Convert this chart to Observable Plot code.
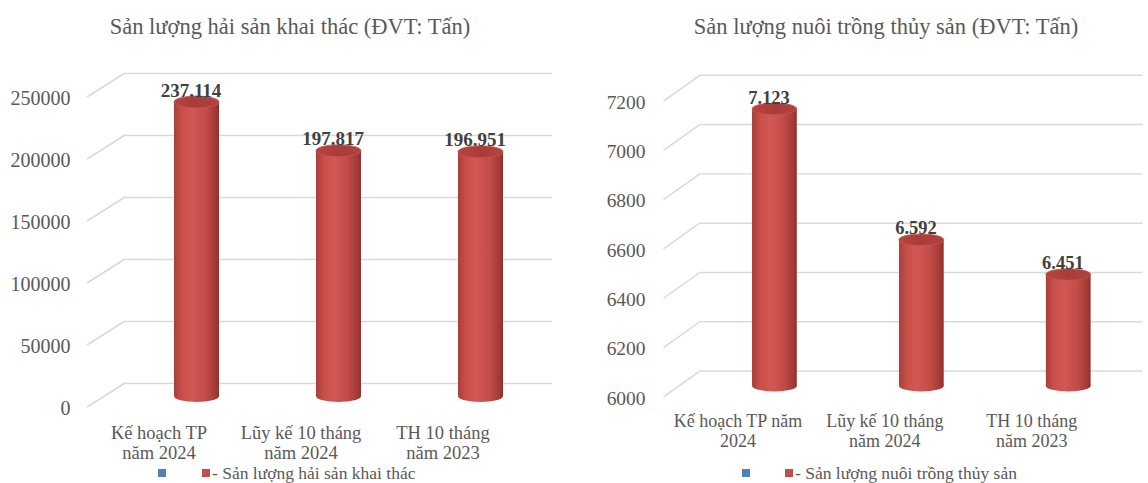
<!DOCTYPE html>
<html><head><meta charset="utf-8">
<script src="https://cdn.jsdelivr.net/npm/d3@7"></script>
<script src="https://cdn.jsdelivr.net/npm/@observablehq/plot@0.6"></script>
<style>
html,body{margin:0;padding:0;background:#fff;}
body{width:1148px;height:483px;overflow:hidden;position:relative;font-family:"Liberation Serif","DejaVu Serif",serif;color:#595959;}
.title{position:absolute;top:14px;font-size:22.5px;white-space:nowrap;transform:translateX(-50%);color:#595959;}
.chart{position:absolute;top:50px;}
.sw{position:absolute;top:469px;width:8px;height:8px;}
.ltext{position:absolute;top:465px;font-size:17.5px;line-height:17px;white-space:nowrap;color:#595959;}
</style></head><body>
<div class="title" id="t1" style="left:290px"></div>
<div class="title" id="t2" style="left:886px"></div>
<div class="chart" id="c1" style="left:0px"></div>
<div class="chart" id="c2" style="left:574px"></div>
<div class="sw" style="left:158px;background:#4f81bd"></div>
<div class="sw" style="left:202px;background:#c0504d"></div>
<div class="ltext" id="l1" style="left:212px"></div>
<div class="sw" style="left:742px;background:#4f81bd"></div>
<div class="sw" style="left:785px;background:#c0504d"></div>
<div class="ltext" id="l2" style="left:795px"></div>
<script>
// ---- Data ----
const titleA = "Sản lượng hải sản khai thác (ĐVT: Tấn)";
const seriesA = "- Sản lượng hải sản khai thác";
const categoriesA = ["Kế hoạch TP năm 2024", "Lũy kế 10 tháng năm 2024", "TH 10 tháng năm 2023"];
const tickLabelsA = ["Kế hoạch TP\nnăm 2024", "Lũy kế 10 tháng\nnăm 2024", "TH 10 tháng\nnăm 2023"];
const valuesA = [237114, 197817, 196951];
const yTicksA = [0, 50000, 100000, 150000, 200000, 250000];

const titleB = "Sản lượng nuôi trồng thủy sản (ĐVT: Tấn)";
const seriesB = "- Sản lượng nuôi trồng thủy sản";
const categoriesB = ["Kế hoạch TP năm 2024", "Lũy kế 10 tháng năm 2024", "TH 10 tháng năm 2023"];
const tickLabelsB = ["Kế hoạch TP năm\n2024", "Lũy kế 10 tháng\nnăm 2024", "TH 10 tháng\nnăm 2023"];
const valuesB = [7123, 6592, 6451];
const yTicksB = [6000, 6200, 6400, 6600, 6800, 7000, 7200];

document.getElementById("t1").textContent = titleA;
document.getElementById("t2").textContent = titleB;
document.getElementById("l1").textContent = seriesA;
document.getElementById("l2").textContent = seriesB;

const vnFmt = d3.formatLocale({decimal: ",", thousands: ".", grouping: [3], currency: ["", ""]}).format(",d");
const FONT = '"Liberation Serif","DejaVu Serif",serif';

function cylinderChart(o) {
  const data = o.cats.map((c, i) => ({cat: c, v: o.values[i], lab: o.tickLabels[i]}));
  const base = o.yDomain[0];
  const gid = o.id;
  const getScale = (scales, k) => (typeof scales[k] === "function" ? scales[k] : scales.scales[k]);
  const bwOf = (sx) => (typeof sx.bandwidth === "function" ? sx.bandwidth() : 45);
  const defsMark = () => {
    const defs = d3.create("svg:defs");
    const g = defs.append("linearGradient").attr("id", gid + "body").attr("x1", 0).attr("x2", 1).attr("y1", 0).attr("y2", 0);
    [[0, "#a83f3b"], [0.18, "#c94f4b"], [0.4, "#d25854"], [0.7, "#c24c48"], [0.92, "#a33a37"], [1, "#8e302d"]]
      .forEach(([off, c]) => g.append("stop").attr("offset", off).attr("stop-color", c));
    const t = defs.append("linearGradient").attr("id", gid + "top").attr("x1", 0).attr("x2", 1).attr("y1", 0).attr("y2", 0);
    [[0, "#b8453f"], [0.5, "#a83c38"], [1, "#b24440"]]
      .forEach(([off, c]) => t.append("stop").attr("offset", off).attr("stop-color", c));
    return defs.node();
  };
  const diagMark = (index, scales) => {
    const y = getScale(scales, "y");
    const g = d3.create("svg:g").attr("stroke", "#d9d9d9").attr("stroke-width", 1.5);
    for (const t of o.yTicks) {
      g.append("line").attr("x1", o.diagX0).attr("y1", y(t) + o.labelDy - 1)
        .attr("x2", o.mL).attr("y2", y(t) + o.backDy);
    }
    return g.node();
  };
  const bottomMark = (index, scales) => {
    const x = getScale(scales, "x"), y = getScale(scales, "y");
    const bw = bwOf(x);
    const g = d3.create("svg:g");
    for (const d of data) {
      g.append("ellipse").attr("cx", x(d.cat) + bw / 2).attr("cy", y(base)).attr("rx", bw / 2).attr("ry", 6)
        .attr("fill", `url(#${gid}body)`);
    }
    return g.node();
  };
  const topMark = (index, scales) => {
    const x = getScale(scales, "x"), y = getScale(scales, "y");
    const bw = bwOf(x);
    const g = d3.create("svg:g");
    for (const d of data) {
      g.append("ellipse").attr("cx", x(d.cat) + bw / 2).attr("cy", y(d.v)).attr("rx", bw / 2).attr("ry", 6)
        .attr("fill", `url(#${gid}top)`).attr("stroke", "#c9534e").attr("stroke-width", 0.8);
    }
    return g.node();
  };
  return Plot.plot({
    width: o.width, height: o.height,
    marginLeft: o.mL, marginRight: o.mR, marginTop: o.mT, marginBottom: o.mB,
    style: {fontFamily: FONT, background: "transparent", overflow: "visible", color: "#595959"},
    x: {domain: o.cats, paddingInner: o.pad, paddingOuter: o.pad / 2, axis: null},
    y: {domain: o.yDomain, axis: null},
    marks: [
      defsMark,
      Plot.ruleY(o.yTicks, {stroke: "#d9d9d9", strokeWidth: 1.5, dy: o.backDy}),
      diagMark,
      Plot.text(o.yTicks, {y: d => d, text: d => String(d), frameAnchor: "left", textAnchor: "end",
        dx: o.tickDx, dy: o.labelDy, fontSize: 20, fill: "#595959"}),
      bottomMark,
      Plot.barY(data, {x: "cat", y1: () => base, y2: "v", fill: `url(#${gid}body)`}),
      topMark,
      Plot.text(data, {x: "cat", y: "v", text: d => vnFmt(d.v), dy: -12, dx: -6,
        fontSize: 19, fontWeight: "bold", fill: "#404040"}),
      Plot.text(data, {x: "cat", text: "lab", frameAnchor: "bottom", lineAnchor: "top", lineHeight: 1.08,
        dy: 28, dx: -38, fontSize: 18.5, fill: "#595959"})
    ]
  });
}

document.getElementById("c1").append(cylinderChart({
  id: "ga", cats: categoriesA, tickLabels: tickLabelsA, values: valuesA,
  yDomain: [0, 250000], yTicks: yTicksA,
  width: 574, height: 420, mL: 125, mR: 22, mT: 36, mB: 74, pad: 0.684,
  backDy: -13, labelDy: 12, tickDx: -55, diagX0: 87
}));

document.getElementById("c2").append(cylinderChart({
  id: "gb", cats: categoriesB, tickLabels: tickLabelsB, values: valuesB,
  yDomain: [6000, 7200], yTicks: yTicksB,
  width: 590, height: 420, mL: 130, mR: 5.5, mT: 41, mB: 75, pad: 0.696,
  backDy: -15.5, labelDy: 12.5, tickDx: -57, diagX0: 92
}));
</script>
</body></html>
